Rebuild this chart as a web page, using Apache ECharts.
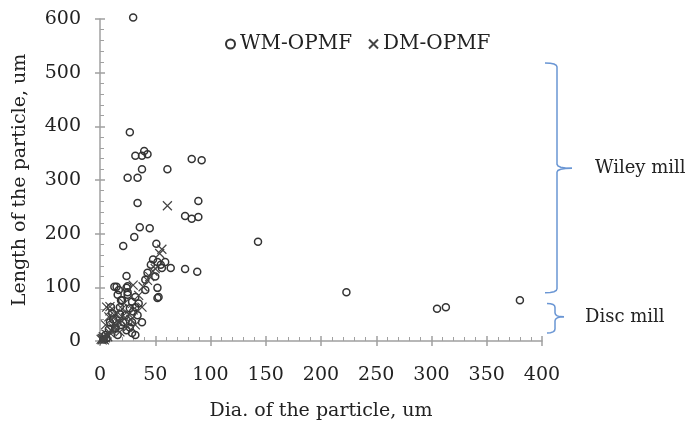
<!DOCTYPE html>
<html>
<head>
    <meta charset="utf-8">
    <title>index</title>
    <style>
        html, body { margin: 0; padding: 0; background: #fff; }
    </style>
</head>
<body>
    <div id="main" style="width: 692px;height:432px;"></div>
    <script src="https://cdn.jsdelivr.net/npm/echarts@6/dist/echarts.min.js"></script>
    <script>
        // Wiley mill 粒子 (直径, 长度)
        var wmData = [
            [30, 603], [27, 389], [32, 345], [38, 345], [40, 354], [43, 348], [38, 320],
            [25, 304], [34, 304], [61, 320], [83, 339], [92, 337], [34, 257], [89, 261],
            [77, 233], [83, 228], [89, 231], [36, 212], [45, 210], [31, 194], [21, 177],
            [51, 181], [52, 147], [46, 142], [59, 147], [56, 136], [64, 136], [43, 127],
            [77, 134], [88, 129], [24, 121], [41, 114], [52, 99], [52, 80], [53, 82],
            [41, 95], [15, 101], [25, 102], [19, 76], [25, 91], [32, 82], [38, 35],
            [29, 15], [10, 63], [143, 185], [223, 91], [305, 60], [313, 63], [380, 76],
            [13, 101], [17, 95], [24, 99], [16, 86], [25, 86], [20, 76], [29, 73],
            [18, 63], [27, 61], [32, 63], [11, 52], [23, 48], [34, 48], [9, 35],
            [21, 35], [29, 35], [14, 24], [24, 20], [32, 11], [5, 11], [16, 11],
            [8, 22], [12, 40], [18, 50], [6, 5], [3, 3], [19, 30], [27, 25],
            [48, 152], [50, 120], [55, 142], [35, 70], [30, 55]
        ];
        // Disc mill 粒子
        var dmData = [
            [61, 252], [56, 171], [54, 163], [43, 113], [39, 101], [30, 104], [20, 60],
            [9, 64], [30, 58], [38, 63], [6, 63], [9, 56], [12, 43], [5, 30], [14, 30],
            [18, 34], [23, 43], [25, 26], [32, 30], [9, 15], [18, 17], [2, 5], [1, 3],
            [3, 8], [4, 2], [6, 12], [10, 20], [12, 25], [15, 22], [7, 8], [2, 2],
            [3, 4], [5, 6], [20, 45], [16, 38], [26, 50], [22, 70], [28, 40], [8, 45],
            [14, 52], [35, 85], [45, 120], [48, 130], [50, 135]
        ];
        var seriesNames = ['WM-OPMF', 'DM-OPMF'];
        // 括号范围 (下端, 中间尖, 上端 的 y 值)
        var wileyRange = [90, 322, 518];
        var discRange = [15, 45, 70];
        var bracketLabels = ['Wiley mill', 'Disc mill'];

        var font = 'DejaVu Serif';
        var axisColor = '#a0a0a0';
        var crossPath = 'path://M0,0L10,10M10,0L0,10';

        var myChart = echarts.init(document.getElementById('main'));

        var option = {
            backgroundColor: '#fff',
            animation: false,
            grid: { left: 100, right: 150, top: 19, bottom: 91 },
            legend: {
                left: 220,
                top: 29,
                itemGap: 16,
                itemWidth: 9,
                itemHeight: 9,
                textStyle: { fontFamily: font, fontSize: 20, color: '#222' },
                data: seriesNames
            },
            xAxis: [{
                type: 'value',
                min: 0, max: 400, interval: 50,
                name: 'Dia. of the particle, um',
                nameLocation: 'middle',
                nameGap: 61,
                nameTextStyle: { fontFamily: font, fontSize: 19, color: '#222' },
                axisLine: { lineStyle: { color: axisColor, width: 1.5 } },
                axisTick: { inside: true, length: 5, lineStyle: { color: axisColor, width: 1.5 } },
                minorTick: { show: true, splitNumber: 5, length: 4, lineStyle: { color: axisColor } },
                axisLabel: { margin: 25, fontFamily: font, fontSize: 19, color: '#222' },
                splitLine: { show: false }
            }, {
                // 刻度线向外的一半
                type: 'value',
                min: 0, max: 400, interval: 50,
                offset: -322,
                axisLine: { show: false, onZero: false },
                axisTick: { inside: true, length: 5, lineStyle: { color: axisColor, width: 1.5 } },
                axisLabel: { show: false },
                splitLine: { show: false }
            }],
            yAxis: [{
                type: 'value',
                min: 0, max: 600, interval: 100,
                name: 'Length of the particle, um',
                nameLocation: 'middle',
                nameGap: 70,
                nameTextStyle: { fontFamily: font, fontSize: 19, color: '#222' },
                axisLine: { show: true, lineStyle: { color: axisColor, width: 1.5 } },
                axisTick: { show: true, inside: true, length: 5, lineStyle: { color: axisColor, width: 1.5 } },
                minorTick: { show: true, splitNumber: 5, length: 4, lineStyle: { color: axisColor } },
                axisLabel: { margin: 19, fontFamily: font, fontSize: 19, color: '#222' },
                splitLine: { show: false }
            }, {
                type: 'value',
                min: 0, max: 600, interval: 100,
                offset: -442,
                axisLine: { show: false, onZero: false },
                axisTick: { show: true, inside: true, length: 5, lineStyle: { color: axisColor, width: 1.5 } },
                axisLabel: { show: false },
                splitLine: { show: false }
            }],
            series: [{
                name: seriesNames[0],
                type: 'scatter',
                data: wmData,
                symbol: 'circle',
                symbolSize: 7,
                clip: false,
                itemStyle: { color: 'rgba(0,0,0,0)', borderColor: '#333', borderWidth: 1.5, opacity: 1 },
                emphasis: { disabled: true },
                z: 3
            }, {
                name: seriesNames[1],
                type: 'scatter',
                data: dmData,
                symbol: crossPath,
                symbolSize: 9,
                clip: false,
                itemStyle: { color: 'rgba(0,0,0,0)', borderColor: '#444', borderWidth: 1.2, opacity: 1 },
                emphasis: { disabled: true },
                z: 4
            }]
        };

        myChart.setOption(option);

        // 右侧的大括号和文字
        function corner(x0, y0, xc, yc, x1, y1) {
            // 二次曲线近似圆角
            var pts = [];
            for (var i = 0; i <= 4; i++) {
                var t = i / 4;
                pts.push([
                    (1 - t) * (1 - t) * x0 + 2 * (1 - t) * t * xc + t * t * x1,
                    (1 - t) * (1 - t) * y0 + 2 * (1 - t) * t * yc + t * t * y1
                ]);
            }
            return pts;
        }

        function brace(range, armX, lineX, tipX, textX, label) {
            var yBot = myChart.convertToPixel({ yAxisIndex: 0 }, range[0]);
            var yMid = myChart.convertToPixel({ yAxisIndex: 0 }, range[1]);
            var yTop = myChart.convertToPixel({ yAxisIndex: 0 }, range[2]);
            var r = 4;
            var upper = corner(armX, yTop, lineX, yTop, lineX, yTop + r)
                .concat(corner(lineX, yMid - r, lineX, yMid, tipX, yMid));
            var lower = corner(tipX, yMid, lineX, yMid, lineX, yMid + r)
                .concat(corner(lineX, yBot - r, lineX, yBot, armX, yBot));
            var style = { fill: 'none', stroke: '#6a96d4', lineWidth: 1.5 };
            return [{
                type: 'polyline',
                shape: { points: upper },
                style: style
            }, {
                type: 'polyline',
                shape: { points: lower },
                style: style
            }, {
                type: 'text',
                x: textX,
                y: yMid,
                style: {
                    text: label,
                    fontFamily: font,
                    fontSize: 18,
                    fill: '#222',
                    verticalAlign: 'middle'
                }
            }];
        }

        var elements = brace(wileyRange, 545, 557, 572, 595, bracketLabels[0])
            .concat(brace(discRange, 547, 555, 564, 585, bracketLabels[1]));
        myChart.setOption({ graphic: { elements: elements } });
    </script>
</body>
</html>
